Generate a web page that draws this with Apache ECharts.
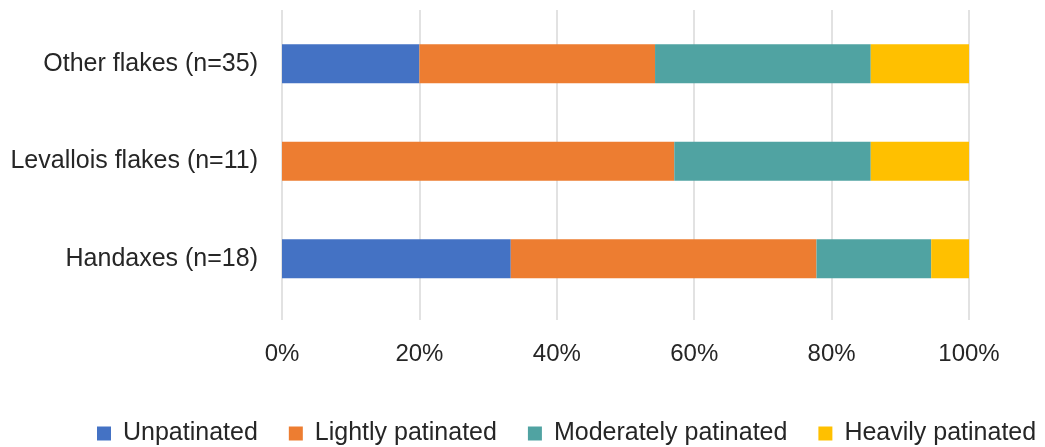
<!DOCTYPE html>
<html>
<head>
<meta charset="utf-8">
<script src="https://cdn.jsdelivr.net/npm/echarts@6/dist/echarts.min.js"></script>
<style>
  html, body { margin: 0; padding: 0; background: #fff; }
  #chart { width: 1045px; height: 447px; }
</style>
</head>
<body>
<div id="chart"></div>
<script>
// Patination state of the lithic assemblage, share of each group (%)
const categories = ['Handaxes (n=18)', 'Levallois flakes (n=11)', 'Other flakes (n=35)'];
const seriesNames = ['Unpatinated', 'Lightly patinated', 'Moderately patinated', 'Heavily patinated'];
const unpatinated = [33.3, 0, 20.0];
const lightly = [44.5, 57.1, 34.3];
const moderately = [16.7, 28.6, 31.4];
const heavily = [5.5, 14.3, 14.3];
const percentTicks = [0, 20, 40, 60, 80, 100];

const colors = ['#4472C4', '#ED7D31', '#50A3A2', '#FFC000'];
const values = [unpatinated, lightly, moderately, heavily];
const textColor = '#262626';
const fontFamily = '"Liberation Sans", Arial, sans-serif';

const chart = echarts.init(document.getElementById('chart'), null, { renderer: 'canvas' });

chart.setOption({
  animation: false,
  color: colors,
  textStyle: { fontFamily: fontFamily, color: textColor },
  grid: [
    // bars
    { left: 282, right: 76, top: 15, height: 292.5 },
    // vertical gridlines and percentage labels
    { left: 282, right: 76, top: 10, height: 310 }
  ],
  xAxis: [
    {
      gridIndex: 0, type: 'value', min: 0, max: 100, interval: 20,
      axisLine: { show: false }, axisTick: { show: false },
      axisLabel: { show: false }, splitLine: { show: false }
    },
    {
      gridIndex: 1, type: 'value', min: percentTicks[0], max: percentTicks[percentTicks.length - 1], interval: 20,
      axisLine: { show: false }, axisTick: { show: false },
      axisLabel: {
        margin: 22, fontSize: 24, color: textColor, fontFamily: fontFamily,
        formatter: v => v + '%'
      },
      splitLine: { show: true, lineStyle: { color: '#D9D9D9', width: 1.5 } }
    }
  ],
  yAxis: [
    {
      gridIndex: 0, type: 'category', data: categories,
      axisLine: { show: false }, axisTick: { show: false },
      axisLabel: { margin: 24, fontSize: 25, color: textColor, fontFamily: fontFamily }
    },
    {
      gridIndex: 1, type: 'value', show: false
    }
  ],
  legend: {
    left: 97, top: 421, padding: 0,
    icon: 'rect', itemWidth: 14, itemHeight: 14, itemGap: 31,
    data: seriesNames,
    textStyle: { fontSize: 25, color: textColor, fontFamily: fontFamily, padding: [0, 0, 0, 7] }
  },
  series: seriesNames.map((name, i) => ({
    name: name,
    type: 'bar',
    stack: 'total',
    xAxisIndex: 0,
    yAxisIndex: 0,
    barWidth: 39,
    data: values[i],
    itemStyle: { color: colors[i] }
  }))
});
</script>
</body>
</html>
